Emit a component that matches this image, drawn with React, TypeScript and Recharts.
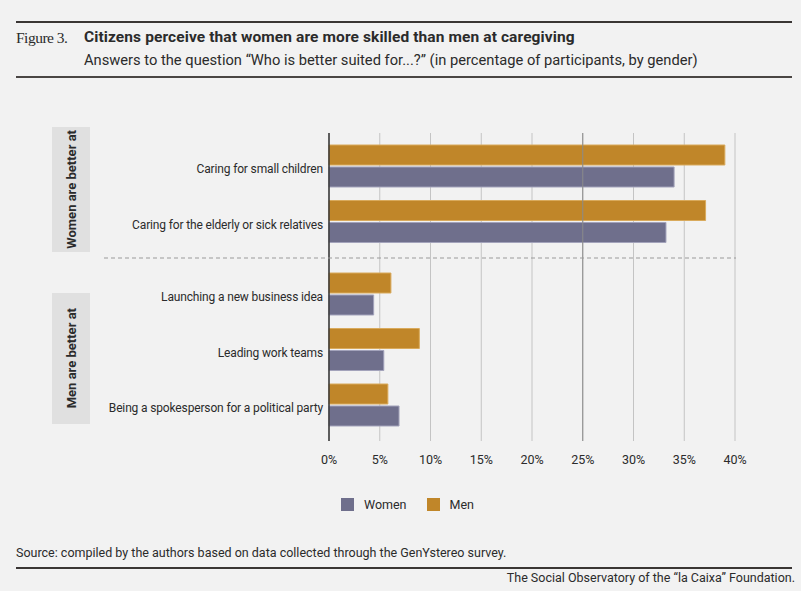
import { BarChart, Bar, XAxis, YAxis, CartesianGrid, ReferenceLine } from 'recharts';

const categories = [
  'Caring for small children',
  'Caring for the elderly or sick relatives',
  'Launching a new business idea',
  'Leading work teams',
  'Being a spokesperson for a political party',
];
const women = [34.0, 33.2, 4.4, 5.4, 6.9];
const men = [39.0, 37.1, 6.1, 8.9, 5.8];
const groupLabels = ['Women are better at', 'Men are better at'];
const groupSizes = [2, 3];
const xTicks = [0, 5, 10, 15, 20, 25, 30, 35, 40];

const WOMEN_COLOR = '#6f6f8c';
const MEN_COLOR = '#c08629';
const SANS = 'Roboto, "Noto Sans", sans-serif';
const TEXT = '#2b2b2b';

const rows = categories.map((name, i) => ({ name, women: women[i], men: men[i] }));
const topRows = rows.slice(0, groupSizes[0]);
const bottomRows = rows.slice(groupSizes[0], groupSizes[0] + groupSizes[1]);

type PanelProps = {
  data: typeof rows;
  top: number;
  height: number;
  padTop: number;
  padBottom: number;
  showX: boolean;
};

function Panel({ data, top, height, padTop, padBottom, showX }: PanelProps) {
  return (
    <div style={{ position: 'absolute', left: 0, top }}>
      <BarChart
        width={801}
        height={height}
        data={data}
        layout="vertical"
        margin={{ top: 0, right: 66, bottom: 0, left: 0 }}
        barSize={20}
        barGap={2}
      >
        <CartesianGrid horizontal={false} stroke="#c4c4c4" />
        <XAxis
          type="number"
          domain={[0, 40]}
          ticks={xTicks}
          hide={!showX}
          height={30}
          axisLine={false}
          tickLine={false}
          tickSize={0}
          tickMargin={14}
          tickFormatter={(v) => `${v}%`}
          tick={{ fill: TEXT, fontSize: 12.5, fontFamily: SANS }}
        />
        <YAxis
          type="category"
          dataKey="name"
          width={329}
          padding={{ top: padTop, bottom: padBottom }}
          axisLine={{ stroke: '#333', strokeWidth: 1.5 }}
          tickLine={false}
          tickSize={0}
          tickMargin={6}
          tick={{ fill: TEXT, fontSize: 12, fontFamily: SANS, letterSpacing: -0.15, dy: 3 }}
        />
        <ReferenceLine x={25} stroke="#8a8a8a" />
        <Bar dataKey="men" name="Men" fill={MEN_COLOR} stroke="#d9aa5c" strokeWidth={1} isAnimationActive={false} />
        <Bar dataKey="women" name="Women" fill={WOMEN_COLOR} stroke="#a3a3bb" strokeWidth={1} isAnimationActive={false} />
      </BarChart>
    </div>
  );
}

function GroupBox({ label, top, height }: { label: string; top: number; height: number }) {
  return (
    <div
      style={{
        position: 'absolute',
        left: 52,
        top,
        width: 38,
        height,
        background: '#e0e0e0',
        display: 'flex',
        alignItems: 'center',
        justifyContent: 'center',
      }}
    >
      <span
        style={{
          writingMode: 'vertical-rl',
          transform: 'rotate(180deg)',
          fontFamily: SANS,
          fontWeight: 700,
          fontSize: 13,
          color: TEXT,
          whiteSpace: 'nowrap',
        }}
      >
        {label}
      </span>
    </div>
  );
}

export default function App() {
  return (
    <div
      style={{
        position: 'absolute',
        left: 0,
        top: 0,
        width: 801,
        height: 591,
        background: '#f2f2f2',
        overflow: 'hidden',
        fontFamily: SANS,
        color: TEXT,
      }}
    >
      <div style={{ position: 'absolute', left: 16, top: 21, width: 776, borderTop: '2px solid #3a3634' }} />
      <div
        style={{
          position: 'absolute',
          left: 16,
          top: 29,
          fontFamily: '"Liberation Serif", "DejaVu Serif", serif',
          fontSize: 15.5,
          letterSpacing: -0.5,
          color: TEXT,
        }}
      >
        Figure 3.
      </div>
      <div style={{ position: 'absolute', left: 84, top: 28, fontSize: 15.5, fontWeight: 700, letterSpacing: 0.1 }}>
        Citizens perceive that women are more skilled than men at caregiving
      </div>
      <div style={{ position: 'absolute', left: 84, top: 51, fontSize: 14.7 }}>
        Answers to the question “Who is better suited for...?” (in percentage of participants, by gender)
      </div>
      <div style={{ position: 'absolute', left: 16, top: 76, width: 776, borderTop: '2px solid #4a4644' }} />

      <GroupBox label={groupLabels[0]} top={127} height={125} />
      <GroupBox label={groupLabels[1]} top={293} height={131} />

      <Panel data={topRows} top={133} height={125} padTop={5} padBottom={9} showX={false} />
      <Panel data={bottomRows} top={258} height={213} padTop={8} padBottom={8.5} showX={true} />

      <svg style={{ position: 'absolute', left: 104, top: 257 }} width={632} height={2}>
        <line x1={0} y1={1} x2={632} y2={1} stroke="#9a9a9a" strokeDasharray="4 3" />
      </svg>

      <div style={{ position: 'absolute', left: 341, top: 497, display: 'flex', alignItems: 'center', fontSize: 12.5 }}>
        <span style={{ width: 13, height: 13, background: WOMEN_COLOR, display: 'inline-block' }} />
        <span style={{ marginLeft: 10 }}>Women</span>
        <span style={{ width: 13, height: 13, background: MEN_COLOR, display: 'inline-block', marginLeft: 20 }} />
        <span style={{ marginLeft: 10 }}>Men</span>
      </div>

      <div style={{ position: 'absolute', left: 16, top: 545, fontSize: 12.5 }}>
        Source: compiled by the authors based on data collected through the GenYstereo survey.
      </div>
      <div style={{ position: 'absolute', left: 16, top: 567, width: 776, borderTop: '2px solid #3a3634' }} />
      <div style={{ position: 'absolute', right: 6, top: 570, fontSize: 12.5 }}>
        The Social Observatory of the “la Caixa” Foundation.
      </div>
    </div>
  );
}
